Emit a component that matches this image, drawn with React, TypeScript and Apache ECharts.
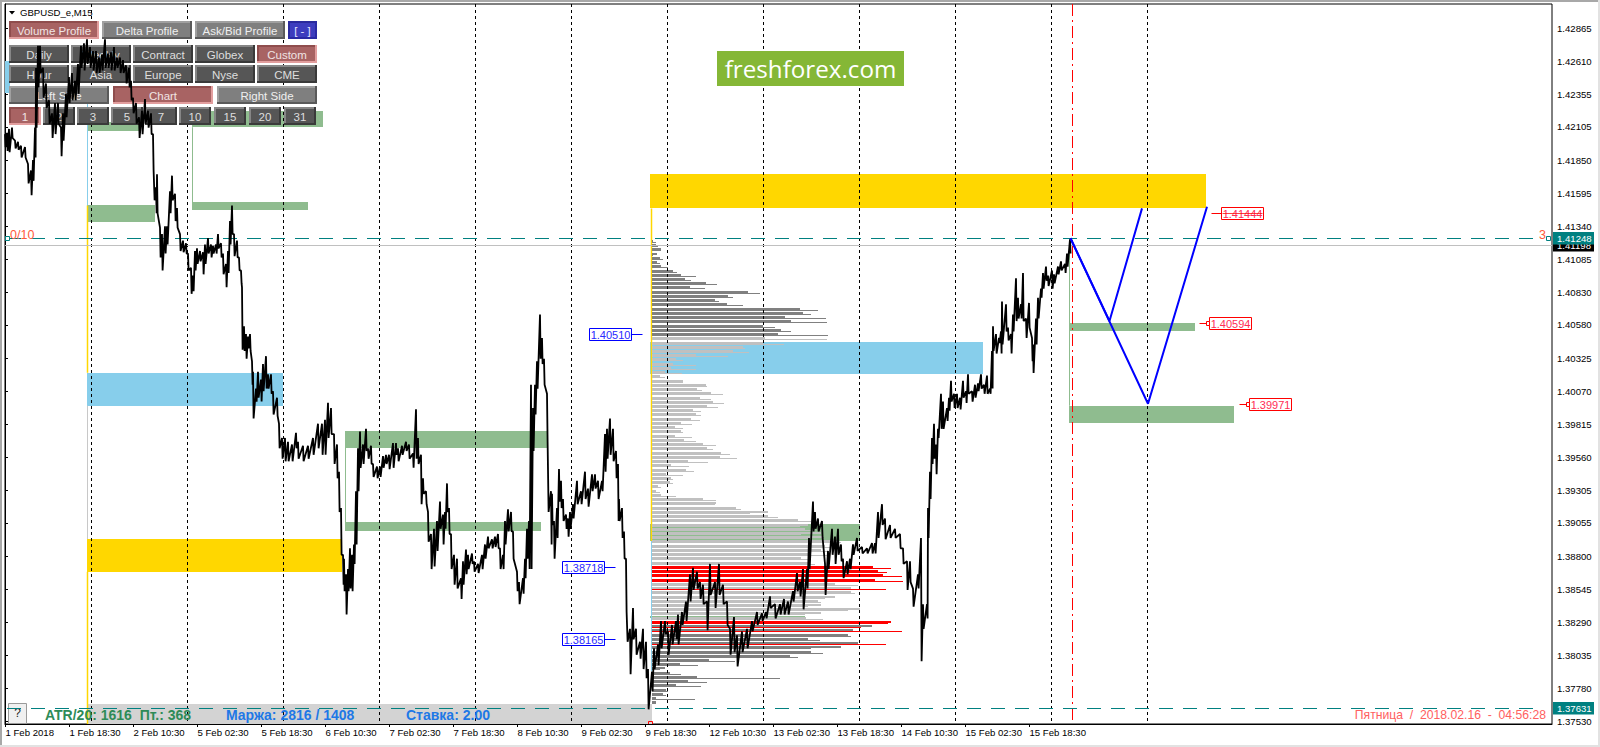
import React, { useEffect, useRef } from "react";
import * as echarts from "echarts";

const FONT = "'Liberation Sans', Arial, sans-serif";

const xTickLabels = ["1 Feb 2018","1 Feb 18:30","2 Feb 10:30","5 Feb 02:30","5 Feb 18:30","6 Feb 10:30","7 Feb 02:30","7 Feb 18:30","8 Feb 10:30","9 Feb 02:30","9 Feb 18:30","12 Feb 10:30","13 Feb 02:30","13 Feb 18:30","14 Feb 10:30","15 Feb 02:30","15 Feb 18:30"];
const yTicks = [1.42865,1.4261,1.42355,1.42105,1.4185,1.41595,1.4134,1.41085,1.4083,1.4058,1.40325,1.4007,1.39815,1.3956,1.39305,1.39055,1.388,1.38545,1.3829,1.38035,1.3778,1.3753];

// [bar, high, low]
const barsA = [[0,1.4205,1.4195],[2,1.4206,1.4192],[4,1.4209,1.4191],[7,1.421,1.4202],[10,1.42,1.4194],[13,1.4199,1.4193],[16,1.4196,1.4187],[20,1.4195,1.4187],[23,1.4182,1.4167],[26,1.4177,1.4158],[28,1.4185,1.4169],[30,1.421,1.4187],[31,1.4256,1.421],[33,1.4273,1.4241],[35,1.4273,1.4252],[38,1.4256,1.4233],[41,1.4244,1.4225],[44,1.4231,1.4213],[47,1.4221,1.4202],[50,1.4229,1.4205],[53,1.4229,1.4213],[56,1.421,1.4188],[58,1.4221,1.42],[61,1.4236,1.4218],[64,1.4249,1.4229],[67,1.4252,1.4231],[70,1.4246,1.4231],[73,1.4259,1.4236],[76,1.4273,1.4256],[79,1.4275,1.4254],[82,1.4278,1.4259],[85,1.4272,1.4256],[88,1.4269,1.4254],[91,1.4269,1.4252],[94,1.4264,1.4252],[97,1.4266,1.4254],[100,1.4278,1.4256],[103,1.4267,1.4256],[106,1.4268,1.4254],[109,1.4272,1.4254],[112,1.4264,1.4256],[115,1.4264,1.4252],[118,1.4262,1.4252],[121,1.4258,1.4244],[124,1.4256,1.4241],[126,1.4246,1.4231],[128,1.4233,1.4221],[131,1.4229,1.4213],[134,1.4218,1.4202],[137,1.4223,1.4205],[140,1.4232,1.4213],[143,1.4223,1.421],[146,1.4221,1.4205],[148,1.4205,1.4177],[149,1.4177,1.4154],[151,1.4164,1.4144],[152,1.4174,1.4144],[155,1.4133,1.411],[157,1.4128,1.41],[160,1.4134,1.4113],[162,1.4134,1.412],[165,1.4161,1.4144],[167,1.4173,1.4154],[170,1.4159,1.4138],[172,1.4148,1.4133],[175,1.4128,1.4115],[178,1.4123,1.4114],[181,1.4121,1.4113],[183,1.4113,1.41],[186,1.4102,1.4082],[188,1.4096,1.4084],[190,1.4115,1.41],[192,1.4117,1.4105],[195,1.4115,1.4107],[198,1.4114,1.4097],[200,1.412,1.4105],[203,1.4125,1.4113],[206,1.412,1.411],[208,1.4119,1.4113],[211,1.412,1.4113],[213,1.4128,1.4117],[216,1.4121,1.411],[218,1.4113,1.4097],[221,1.4105,1.4087],[223,1.4115,1.4098],[225,1.4138,1.412],[227,1.415,1.4128],[229,1.4128,1.4111],[232,1.4123,1.411],[234,1.411,1.41],[236,1.41,1.409],[237,1.4087,1.4039],[239,1.4057,1.4038],[241,1.4051,1.4032],[243,1.4049,1.404],[245,1.4051,1.4038],[247,1.403,1.4012],[248,1.4022,1.3986],[251,1.4009,1.3999],[253,1.4022,1.4002],[256,1.4016,1.3999],[258,1.4028,1.4007],[261,1.4034,1.4009],[263,1.402,1.4009],[266,1.402,1.4005],[268,1.4007,1.3989],[272,1.4002,1.3988],[274,1.3982,1.3963],[277,1.3971,1.3955],[280,1.3971,1.3953],[283,1.3968,1.3953],[287,1.3966,1.3953],[291,1.3975,1.3963],[293,1.3968,1.3955],[298,1.3965,1.3953],[303,1.3965,1.3955],[308,1.3971,1.3958],[313,1.3982,1.3963],[317,1.3982,1.3958],[320,1.3985,1.3958],[323,1.3998,1.3971],[326,1.3994,1.3974],[329,1.3974,1.3951],[332,1.3966,1.394],[334,1.3945,1.3914],[336,1.3917,1.3881]];
const barsB = [[338,1.3881,1.3858],[339,1.3878,1.3853],[341,1.3866,1.3835],[343,1.387,1.3853],[345,1.3886,1.3855],[347,1.3881,1.3853],[349,1.3889,1.3874],[351,1.393,1.3889],[353,1.3963,1.393],[355,1.3976,1.3948],[358,1.3966,1.3951],[361,1.3978,1.3961],[363,1.3963,1.3955],[366,1.3965,1.3951],[368,1.3951,1.3941],[372,1.3949,1.394],[375,1.3949,1.3941],[378,1.3957,1.3948],[381,1.3958,1.3951],[384,1.3958,1.3947],[388,1.3967,1.3948],[391,1.3967,1.3958],[393,1.3963,1.3953],[397,1.3965,1.3958],[401,1.3968,1.3961],[404,1.3966,1.3955],[408,1.3959,1.3948],[411,1.3993,1.3955],[413,1.3971,1.3951],[416,1.3958,1.392],[418,1.394,1.3928],[421,1.393,1.392],[423,1.3914,1.3891],[426,1.3897,1.387],[429,1.3901,1.3872],[432,1.3907,1.3884],[435,1.3922,1.3901],[438,1.3912,1.3889],[440,1.3914,1.3901],[442,1.3936,1.3914],[444,1.3917,1.3897],[446,1.3897,1.387],[449,1.3881,1.3858],[452,1.3878,1.3855],[456,1.3863,1.3847],[458,1.3876,1.3858],[461,1.3885,1.3866],[463,1.3881,1.387],[467,1.3882,1.3874],[469,1.3876,1.3868],[473,1.3874,1.3867],[477,1.3881,1.387],[480,1.3889,1.3878],[483,1.3895,1.3886],[487,1.3893,1.3886],[490,1.3895,1.3887],[493,1.3897,1.3886],[495,1.3886,1.387],[498,1.3881,1.387],[500,1.3907,1.3889],[503,1.3916,1.3899],[506,1.3914,1.3899],[508,1.3899,1.3878],[512,1.3868,1.3853],[514,1.386,1.3843],[518,1.3863,1.3851],[520,1.3878,1.3863],[522,1.3901,1.3878],[524,1.3907,1.387],[526,1.4012,1.387],[528,1.3994,1.3961],[530,1.4012,1.3989],[532,1.403,1.4009],[535,1.4066,1.4032],[537,1.4048,1.4028],[539,1.4032,1.4012],[542,1.4005,1.3968],[543,1.3968,1.3914],[546,1.393,1.3889],[547,1.3928,1.3904],[549,1.3907,1.3878],[552,1.3917,1.3894],[554,1.3947,1.3922],[556,1.3938,1.3917],[558,1.3924,1.3907],[561,1.3912,1.3901],[563,1.3909,1.3895],[565,1.3914,1.3901],[568,1.392,1.3909],[572,1.3938,1.392],[576,1.393,1.392],[580,1.3945,1.3924],[583,1.3932,1.3918],[587,1.3943,1.393],[590,1.3943,1.3932],[593,1.3938,1.3924],[597,1.3938,1.393],[600,1.3974,1.3945],[602,1.3978,1.3955],[605,1.3986,1.3958],[608,1.3978,1.3953],[611,1.3961,1.394],[613,1.3951,1.3907],[614,1.3924,1.3907],[617,1.3917,1.3894],[619,1.3899,1.3878],[621,1.3878,1.3837],[622,1.3837,1.3814],[625,1.3824,1.3789],[628,1.384,1.3816],[631,1.3824,1.3804],[635,1.3814,1.3801],[638,1.3824,1.3793],[641,1.3814,1.3786],[643,1.3793,1.3762],[647,1.3791,1.3776],[649,1.3809,1.3793],[653,1.3812,1.3796],[656,1.383,1.3809],[660,1.383,1.382],[663,1.3822,1.3804],[667,1.3827,1.3812],[671,1.383,1.3816],[673,1.3835,1.3812],[677,1.3837,1.3827],[681,1.3845,1.383],[685,1.3866,1.3845],[688,1.3871,1.3854],[692,1.3868,1.3855],[695,1.386,1.3847],[698,1.3858,1.3843],[702,1.3845,1.3823],[705,1.3874,1.385],[710,1.386,1.384],[714,1.3874,1.385],[718,1.3858,1.3843],[722,1.3845,1.3827],[725,1.3824,1.3804],[729,1.3833,1.3806],[732,1.3819,1.3795],[737,1.3822,1.3806],[742,1.3824,1.3809],[747,1.383,1.3822],[752,1.3837,1.3827],[757,1.3836,1.383],[761,1.3837,1.3832]];
const barsC = [[765,1.3849,1.384],[770,1.3843,1.3832],[775,1.3843,1.3835],[779,1.3847,1.3835],[783,1.3845,1.3835],[788,1.3853,1.3845],[792,1.3867,1.3853],[795,1.386,1.3849],[798,1.387,1.3839],[802,1.387,1.3855],[804,1.3894,1.387],[808,1.3922,1.3899],[810,1.3914,1.3901],[813,1.3909,1.3899],[817,1.3907,1.3894],[820,1.3874,1.385],[823,1.3884,1.387],[827,1.3901,1.3881],[830,1.3895,1.3874],[833,1.3901,1.3881],[836,1.3889,1.3876],[838,1.3878,1.3863],[842,1.3876,1.3866],[845,1.3878,1.387],[848,1.3889,1.3881],[852,1.3894,1.3884],[857,1.3887,1.3882],[862,1.3886,1.3882],[867,1.389,1.3882],[870,1.389,1.3882],[873,1.3914,1.3894],[877,1.392,1.3904],[880,1.3909,1.3893],[885,1.3904,1.3894],[890,1.3901,1.3894],[895,1.3897,1.3886],[898,1.3886,1.3874],[902,1.3876,1.3854],[905,1.3876,1.386],[908,1.3855,1.3841],[913,1.3866,1.3855],[916,1.3894,1.3799],[918,1.3843,1.3824],[922,1.3843,1.3832],[923,1.3917,1.3894],[925,1.3945,1.3924],[927,1.3971,1.3951],[929,1.3982,1.3955],[931,1.3966,1.3943],[933,1.3978,1.3971],[936,1.4005,1.3978],[938,1.3999,1.3978],[942,1.3994,1.3984],[944,1.4002,1.3992],[946,1.4015,1.3999],[949,1.4005,1.3994],[952,1.4005,1.3994],[955,1.4002,1.3993],[958,1.4015,1.4002],[961,1.4007,1.3998],[963,1.402,1.4005],[967,1.4007,1.3999],[970,1.4012,1.4002],[973,1.4013,1.4007],[976,1.402,1.4009],[979,1.4012,1.4005],[982,1.4019,1.4005],[985,1.4009,1.4005],[987,1.4038,1.4009],[988,1.4057,1.4038],[991,1.4051,1.4036],[994,1.4048,1.4044],[996,1.4053,1.4036],[997,1.4076,1.4043],[1001,1.4074,1.4053],[1003,1.4056,1.4046],[1006,1.4051,1.4036],[1008,1.4066,1.4053],[1011,1.4094,1.4061],[1013,1.4079,1.4063],[1016,1.4074,1.4063],[1018,1.4098,1.4061],[1021,1.4063,1.4048],[1024,1.4075,1.4056],[1027,1.4048,1.403],[1028,1.4043,1.4021],[1031,1.4063,1.4043],[1033,1.4079,1.4063],[1036,1.4086,1.4079],[1038,1.4098,1.4086],[1041,1.4103,1.4092],[1043,1.4096,1.4088],[1047,1.41,1.4086],[1049,1.4097,1.409],[1053,1.4103,1.4097],[1056,1.4107,1.41],[1060,1.4105,1.4098],[1062,1.4113,1.4103],[1065,1.4124,1.4113]];

// volume profile rows, from the top price level downward: main bar and the finer bar beneath it
const profileTop = 1.41235;
const profileStep = 0.000326;
const profileMain = [1,4,9,5,8,5,9,21,29,33,54,38,96,76,63,75,148,151,133,139,111,129,126,113,111,91,81,44,24,21,19,13,8,31,54,45,59,48,61,55,41,44,39,29,23,29,23,32,51,55,69,68,36,19,34,14,19,18,6,4,9,51,64,84,116,116,146,156,153,169,171,183,173,169,156,149,156,221,226,231,223,183,199,199,183,166,169,208,169,154,239,220,201,196,156,206,189,159,138,57,28,13,18,45,36,24,14,11,4,4];
const profileFine = [4,6,9,1,11,8,16,25,44,39,65,53,108,81,67,91,166,159,174,175,123,139,176,175,132,93,97,76,31,44,44,30,13,31,55,50,71,59,72,66,49,49,48,40,31,31,40,44,64,61,78,85,56,37,42,31,21,21,9,8,24,64,63,89,98,126,159,148,163,149,159,189,179,176,176,158,163,239,235,250,251,206,234,203,173,169,156,196,153,171,236,209,250,199,168,234,159,171,146,83,46,8,29,128,55,49,16,14,43,4];
const profileRedRows = [77,78,79,80,90];
const profileRedFineRows = [82,91,92,95];
const profileDarkAbove = 1.4051;
const profileDarkBelow = 1.383;

// [from bar, to bar, top price, bottom price]
const greenZones = [[82,150,1.41501,1.4137],[187,303,1.41524,1.41462],[82,135,1.42142,1.42072],[187,318,1.42226,1.42103],[340,543,1.39765,1.39636],[340,536,1.39062,1.38993],[645,855,1.39047,1.38916],[645,800,1.38339,1.38322],[1064,1190,1.40598,1.40536],[1064,1229,1.39958,1.39826]];
const blueZones = [[0,5,1.42612,1.42365],[82,278,1.40212,1.39958],[645,978,1.40451,1.40199]];
const yellowZones = [[82,337,1.38931,1.38679],[645,1201,1.4174,1.41478]];
const grayZones = [[82,647,1.3766,1.37507]];

// [bar, top price, bottom price]
const yellowEdges = [[82,1.41501,1.40212],[82,1.38679,1.37507],[646,1.41478,1.38916]];
const grayEdges = [[82,1.39958,1.38931]];
const blueEdges = [[82,1.42365,1.41501],[646,1.38916,1.37913]];
const greenEdges = [[187,1.42103,1.41524],[340,1.39636,1.39062],[1064.5,1.41248,1.39958]];

const daySeparators = [86.5,182.5,278.5,374.5,470.5,566.5,662.5,758.5,854.5,950.5,1046.5,1142.5];
const currentBar = 1067.5;
const axisMin = 1.37507;
const axisMax = 1.43052;

const levelPrices = [1.41248, 1.37631];
const bidPrice = 1.41198;
const scenarioShort = [[1065.5,1.41248],[1104.5,1.4061],[1137,1.41478]];
const scenarioLong = [[1065.5,1.41248],[1143,1.39973],[1202,1.4149]];
const targetLabels = [[1216,1.41444],[1204,1.40594],[1244,1.39971]];
const sourceLabels = [[584,1.4051],[557,1.38718],[557,1.38165]];

const buttonRows = [
  { top: 21, h: 18, items: [["Volume Profile",9,90,"red"],["Delta Profile",102,90,"gray"],["Ask/Bid Profile",195,90,"gray"],["[ - ]",288,29,"blue"]] },
  { top: 45, h: 18, items: [["Daily",9,60,"dark"],["Weekly",71,60,"dark"],["Contract",133,60,"dark"],["Globex",195,60,"dark"],["Custom",257,60,"red"]] },
  { top: 65, h: 18, items: [["Hour",9,60,"dark"],["Asia",71,60,"dark"],["Europe",133,60,"dark"],["Nyse",195,60,"dark"],["CME",257,60,"dark"]] },
  { top: 86, h: 18, items: [["Left Side",9,100,"gray"],["Chart",113,100,"red"],["Right Side",217,100,"gray"]] },
  { top: 107, h: 18, items: [["1",9,32,"red"],["2",43,32,"dark"],["3",77,32,"dark"],["5",111,32,"dark"],["7",145,32,"dark"],["10",179,32,"dark"],["15",214,32,"dark"],["20",249,32,"dark"],["31",284,32,"dark"]] },
];
const buttonStyles: any = {
  red: { fill: "#a86363", tl: "#8f4d4d", br: "#e29e9e", text: "#f0e4e4" },
  gray: { fill: "#7f7f7f", tl: "#a0a0a0", br: "#5a5a5a", text: "#efefef" },
  dark: { fill: "#565656", tl: "#868686", br: "#3a3a3a", text: "#dedede" },
  blue: { fill: "#3d3dbe", tl: "#2a2a9c", br: "#2a2aa4", text: "#e6e6ff" },
};

function zoneSeries(name: string, data: number[][], color: string, z: number) {
  return {
    type: "custom", name, z, silent: true, clip: true, data,
    encode: { x: [0, 1], y: [2, 3] },
    renderItem: (_p: any, api: any) => {
      const a = api.coord([api.value(0), api.value(2)]);
      const b = api.coord([api.value(1), api.value(3)]);
      return { type: "rect", shape: { x: a[0], y: Math.round(a[1]), width: b[0] - a[0], height: Math.max(1, Math.round(b[1]) - Math.round(a[1])) }, style: { fill: color } };
    },
  };
}
function edgeSeries(name: string, data: number[][], color: string, width: number) {
  return {
    type: "custom", name, z: 2, silent: true, data,
    encode: { x: 0, y: [1, 2] },
    renderItem: (_p: any, api: any) => {
      const a = api.coord([api.value(0), api.value(1)]);
      const b = api.coord([api.value(0), api.value(2)]);
      return { type: "line", shape: { x1: Math.floor(a[0]) + 0.5, y1: a[1], x2: Math.floor(a[0]) + 0.5, y2: b[1] }, style: { stroke: color, lineWidth: width } };
    },
  };
}
function zigzag(bars: number[][]) {
  const out: number[][] = [];
  bars.forEach((b) => { out.push([b[0], b[1]]); out.push([b[0] + 0.6, b[2]]); });
  return out;
}
function calloutSeries(name: string, data: number[][], color: string, textColor: string, leaderLeft: boolean) {
  return {
    type: "custom", name, z: 8, silent: true, data,
    encode: { x: 0, y: 1 },
    renderItem: (p: any, api: any) => {
      const a = api.coord([api.value(0), api.value(1)]);
      const x = Math.round(a[0]) + 0.5;
      const y = Math.round(a[1]) + 0.5;
      const w = 42;
      const children: any[] = [
        { type: "line", shape: leaderLeft ? { x1: x - 10, y1: y, x2: x, y2: y } : { x1: x + w, y1: y, x2: x + w + 11, y2: y }, style: { stroke: color, lineWidth: 1 } },
        { type: "rect", shape: { x, y: y - 6, width: w, height: 12 }, style: { fill: "#ffffff", stroke: color, lineWidth: 1 } },
        { type: "text", x: x + w / 2, y: y + 0.5, style: { text: api.value(1).toFixed(5), fill: textColor, font: `11px ${FONT}`, align: "center", verticalAlign: "middle" } },
      ];
      if (leaderLeft && p.dataIndex === 0) children.push({ type: "line", shape: { x1: x + 1, y1: y, x2: x + w - 1, y2: y }, style: { stroke: color, lineWidth: 1, opacity: 0.75 } });
      if (leaderLeft && p.dataIndex > 0) children.push({ type: "rect", shape: { x: x - 3, y: y - 2, width: 3, height: 4 }, style: { fill: "#ffffff", stroke: color, lineWidth: 1 } });
      return { type: "group", children };
    },
  };
}

function buildButtons() {
  const els: any[] = [];
  buttonRows.forEach((row) => {
    row.items.forEach((it: any) => {
      const [label, x, w, kind] = it;
      const s = buttonStyles[kind];
      els.push({ type: "rect", z: 3, shape: { x, y: row.top, width: w, height: row.h }, style: { fill: s.br } });
      els.push({ type: "rect", z: 3, shape: { x, y: row.top, width: w - 2, height: row.h - 2 }, style: { fill: s.tl } });
      els.push({ type: "rect", z: 3, shape: { x: x + 2, y: row.top + 2, width: w - 4, height: row.h - 4 }, style: { fill: s.fill } });
      els.push({ type: "text", z: 3, x: x + w / 2, y: row.top + row.h / 2 + 0.5, style: { text: label, fill: s.text, font: `11.5px ${FONT}`, align: "center", verticalAlign: "middle" } });
    });
  });
  return els;
}

export default function App() {
  const ref = useRef<HTMLDivElement>(null);
  useEffect(() => {
    document.body.style.margin = "0";
    const chart = echarts.init(ref.current!, null, { renderer: "svg" });
    const profileRows = profileMain.map((m, i) => [i, profileTop - i * profileStep, m, profileFine[i]]);
    const option: any = {
      animation: false,
      backgroundColor: "#ffffff",
      grid: { left: 5, right: 48, top: 4, bottom: 23, show: true, borderColor: "#000000", borderWidth: 1, backgroundColor: "transparent" },
      xAxis: {
        type: "value", min: 0, max: 1547, position: "bottom",
        splitLine: { show: false },
        axisLine: { show: true, lineStyle: { color: "#000000" } },
        axisTick: { show: true, length: 3, lineStyle: { color: "#000000" }, customValues: xTickLabels.map((_, i) => i * 64 + 0.5) },
        axisLabel: { show: true, customValues: xTickLabels.map((_, i) => i * 64 + 0.5), color: "#000000", fontSize: 9.6, fontFamily: FONT, align: "left", margin: 3, hideOverlap: false, showMinLabel: true, showMaxLabel: true,
          formatter: (v: number) => xTickLabels[Math.round((v - 0.5) / 64)] ?? "" },
      },
      yAxis: {
        type: "value", min: axisMin, max: axisMax, position: "right",
        splitLine: { show: false },
        axisLine: { show: true, lineStyle: { color: "#000000" } },
        axisTick: { show: true, length: 3, lineStyle: { color: "#000000" }, customValues: yTicks },
        axisLabel: { show: true, customValues: yTicks, color: "#000000", fontSize: 9.6, fontFamily: FONT, margin: 5, showMinLabel: true, showMaxLabel: true, formatter: (v: number) => v.toFixed(5) },
      },
      graphic: { elements: [
        { type: "rect", z: 0, shape: { x: 0, y: 0, width: 1600, height: 2 }, style: { fill: "#a8a8a8" } },
        { type: "rect", z: 0, shape: { x: 0, y: 0, width: 2, height: 747 }, style: { fill: "#a8a8a8" } },
        { type: "rect", z: 0, shape: { x: 0, y: 745, width: 1600, height: 2 }, style: { fill: "#e2e2e2" } },
        { type: "rect", z: 0, shape: { x: 1598, y: 0, width: 2, height: 747 }, style: { fill: "#e2e2e2" } },
        ...buildButtons(),
        { type: "polygon", z: 3, shape: { points: [[9, 11], [15, 11], [12, 14.5]] }, style: { fill: "#000000" } },
        { type: "text", z: 3, x: 20, y: 12.5, style: { text: "GBPUSD_e,M15", fill: "#000000", font: `9.6px ${FONT}`, verticalAlign: "middle" } },
        { type: "rect", z: 3, shape: { x: 717, y: 51, width: 187, height: 35 }, style: { fill: "#85b736" } },
        { type: "text", z: 3, x: 810.5, y: 68, style: { text: "freshforex.com", fill: "#ffffff", font: `24.2px 'Open Sans', sans-serif`, align: "center", verticalAlign: "middle" } },
        { type: "rect", z: 3, shape: { x: 8.5, y: 703.5, width: 18, height: 20 }, style: { fill: "#f0f0f0", stroke: "#9a9a9a", lineWidth: 1 } },
        { type: "text", z: 3, x: 17.5, y: 713, style: { text: "?", fill: "#222222", font: `12px ${FONT}`, align: "center", verticalAlign: "middle" } },
        { type: "polyline", z: 3, shape: { points: [[648.5, 724], [648.5, 721.5], [652.5, 721.5], [652.5, 724]] }, style: { stroke: "#ff0000", fill: "none", lineWidth: 1 } },
        { type: "text", z: 7, x: 45, y: 715, style: { text: "ATR/20: 1616  Пт.: 368", fill: "#2e8b57", font: `bold 14px ${FONT}`, verticalAlign: "middle" } },
        { type: "text", z: 7, x: 226, y: 715, style: { text: "Маржа: 2816 / 1408", fill: "#1e78e6", font: `bold 14px ${FONT}`, verticalAlign: "middle" } },
        { type: "text", z: 7, x: 406, y: 715, style: { text: "Ставка: 2.00", fill: "#1e78e6", font: `bold 14px ${FONT}`, verticalAlign: "middle" } },
        { type: "text", z: 7, x: 1546, y: 715, style: { text: "Пятница  /  2018.02.16  -  04:56:28", fill: "#ff6060", font: `12.2px ${FONT}`, align: "right", verticalAlign: "middle" } },
        { type: "text", z: 7, x: 10, y: 235, style: { text: "0/10", fill: "#ff5a3c", font: `12.5px ${FONT}`, verticalAlign: "middle" } },
        { type: "text", z: 7, x: 1539, y: 235, style: { text: "3", fill: "#ff5a3c", font: `12.5px ${FONT}`, verticalAlign: "middle" } },
      ] },
      series: [
        zoneSeries("grayZones", grayZones, "#d3d3d3", 1),
        zoneSeries("yellowZones", yellowZones, "#ffd700", 1),
        zoneSeries("blueZones", blueZones, "#87ceeb", 1),
        zoneSeries("greenZones", greenZones, "#8fbc8f", 1),
        edgeSeries("yellowEdges", yellowEdges, "#ffd700", 1.5),
        edgeSeries("grayEdges", grayEdges, "#c8c8c8", 1),
        edgeSeries("blueEdges", blueEdges, "#87ceeb", 1),
        edgeSeries("greenEdges", greenEdges, "#8fbc8f", 1),
        {
          type: "custom", name: "volumeProfile", z: 2, silent: true, data: profileRows,
          encode: { x: 2, y: 1 },
          renderItem: (_p: any, api: any) => {
            const i = api.value(0);
            const price = api.value(1);
            const origin = api.coord([647, price]);
            const y = Math.round(origin[1]);
            const x = origin[0];
            const base = price >= profileDarkAbove || price <= profileDarkBelow ? "#808080" : "#c0c0c0";
            const isRed = profileRedRows.includes(i);
            const fineRed = isRed || profileRedFineRows.includes(i);
            const lenMain = api.coord([647 + api.value(2), price])[0] - x;
            const lenFine = api.coord([647 + api.value(3), price])[0] - x;
            return { type: "group", children: [
              { type: "rect", shape: { x, y, width: lenMain, height: 2 }, style: { fill: isRed ? "#ff0000" : base } },
              { type: "rect", shape: { x, y: y + 2, width: lenFine, height: 1 }, style: { fill: fineRed ? "#ff0000" : base } },
            ] };
          },
        },
        {
          type: "custom", name: "daySeparators", z: 2, silent: true, data: daySeparators.map((v) => [v]),
          encode: { x: 0 },
          renderItem: (_p: any, api: any) => {
            const a = api.coord([api.value(0), axisMax]);
            const b = api.coord([api.value(0), axisMin]);
            return { type: "line", shape: { x1: a[0], y1: a[1], x2: b[0], y2: b[1] }, style: { stroke: "#000000", lineWidth: 1, lineDash: [3, 3] } };
          },
        },
        {
          type: "custom", name: "currentBar", z: 2, silent: true, data: [[currentBar]],
          encode: { x: 0 },
          renderItem: (_p: any, api: any) => {
            const a = api.coord([api.value(0), axisMax]);
            const b = api.coord([api.value(0), axisMin]);
            return { type: "line", shape: { x1: a[0], y1: a[1], x2: b[0], y2: b[1] }, style: { stroke: "#ff0000", lineWidth: 1, lineDash: [12, 4, 2, 4] } };
          },
        },
        {
          type: "custom", name: "bidLine", z: 2, silent: true, data: [[bidPrice]],
          encode: { y: 0 },
          renderItem: (_p: any, api: any) => {
            const a = api.coord([0, api.value(0)]);
            const b = api.coord([1547, api.value(0)]);
            const y = Math.round(a[1]) + 0.5;
            return { type: "line", shape: { x1: a[0], y1: y, x2: b[0], y2: y }, style: { stroke: "#c0c0c0", lineWidth: 1 } };
          },
        },
        {
          type: "custom", name: "levels", z: 4, silent: true, data: levelPrices.map((v) => [v]),
          encode: { y: 0 },
          renderItem: (p: any, api: any) => {
            const a = api.coord([2, api.value(0)]);
            const b = api.coord([1531, api.value(0)]);
            const y = Math.round(a[1]) + 0.5;
            const children: any[] = [{ type: "line", shape: { x1: a[0], y1: y, x2: b[0], y2: y }, style: { stroke: "#008080", lineWidth: 1, lineDash: [14, 10] } }];
            if (p.dataIndex === 0) {
              children.push({ type: "rect", shape: { x: 5.5, y: y - 2, width: 4, height: 4 }, style: { fill: "#ffffff", stroke: "#008080", lineWidth: 1 } });
              children.push({ type: "rect", shape: { x: 1546.5, y: y - 2, width: 4, height: 4 }, style: { fill: "#ffffff", stroke: "#008080", lineWidth: 1 } });
            }
            return { type: "group", children };
          },
        },
        { type: "line", name: "priceA", z: 5, silent: true, showSymbol: false, symbol: "none", data: zigzag(barsA.concat(barsB, barsC)), lineStyle: { color: "#000000", width: 1.8 }, connectNulls: false },
        { type: "line", name: "scenarioShort", z: 6, silent: true, showSymbol: false, symbol: "none", data: scenarioShort, lineStyle: { color: "#0000ff", width: 2 } },
        { type: "line", name: "scenarioLong", z: 6, silent: true, showSymbol: false, symbol: "none", data: scenarioLong, lineStyle: { color: "#0000ff", width: 2 } },
        calloutSeries("targets", targetLabels, "#ff0000", "#ff2e55", true),
        calloutSeries("sources", sourceLabels, "#0000ff", "#2a2aff", false),
        {
          type: "custom", name: "priceTags", z: 9, silent: true, clip: false,
          data: [[bidPrice, 0], [levelPrices[0], 1], [levelPrices[1], 1]],
          encode: { y: 0 },
          renderItem: (_p: any, api: any) => {
            const a = api.coord([1547, api.value(0)]);
            const y = Math.round(a[1]);
            const teal = api.value(1) === 1;
            return { type: "group", children: [
              { type: "rect", shape: { x: 1553, y: y - 6, width: 41, height: 12.5 }, style: { fill: teal ? "#008080" : "#000000" } },
              { type: "text", x: 1557, y: y + 0.5, style: { text: api.value(0).toFixed(5), fill: "#ffffff", font: `9.6px ${FONT}`, verticalAlign: "middle" } },
            ] };
          },
        },
      ],
    };
    chart.setOption(option);
    return () => chart.dispose();
  }, []);
  return <div ref={ref} style={{ position: "fixed", left: 0, top: 0, width: 1600, height: 747 }} />;
}
